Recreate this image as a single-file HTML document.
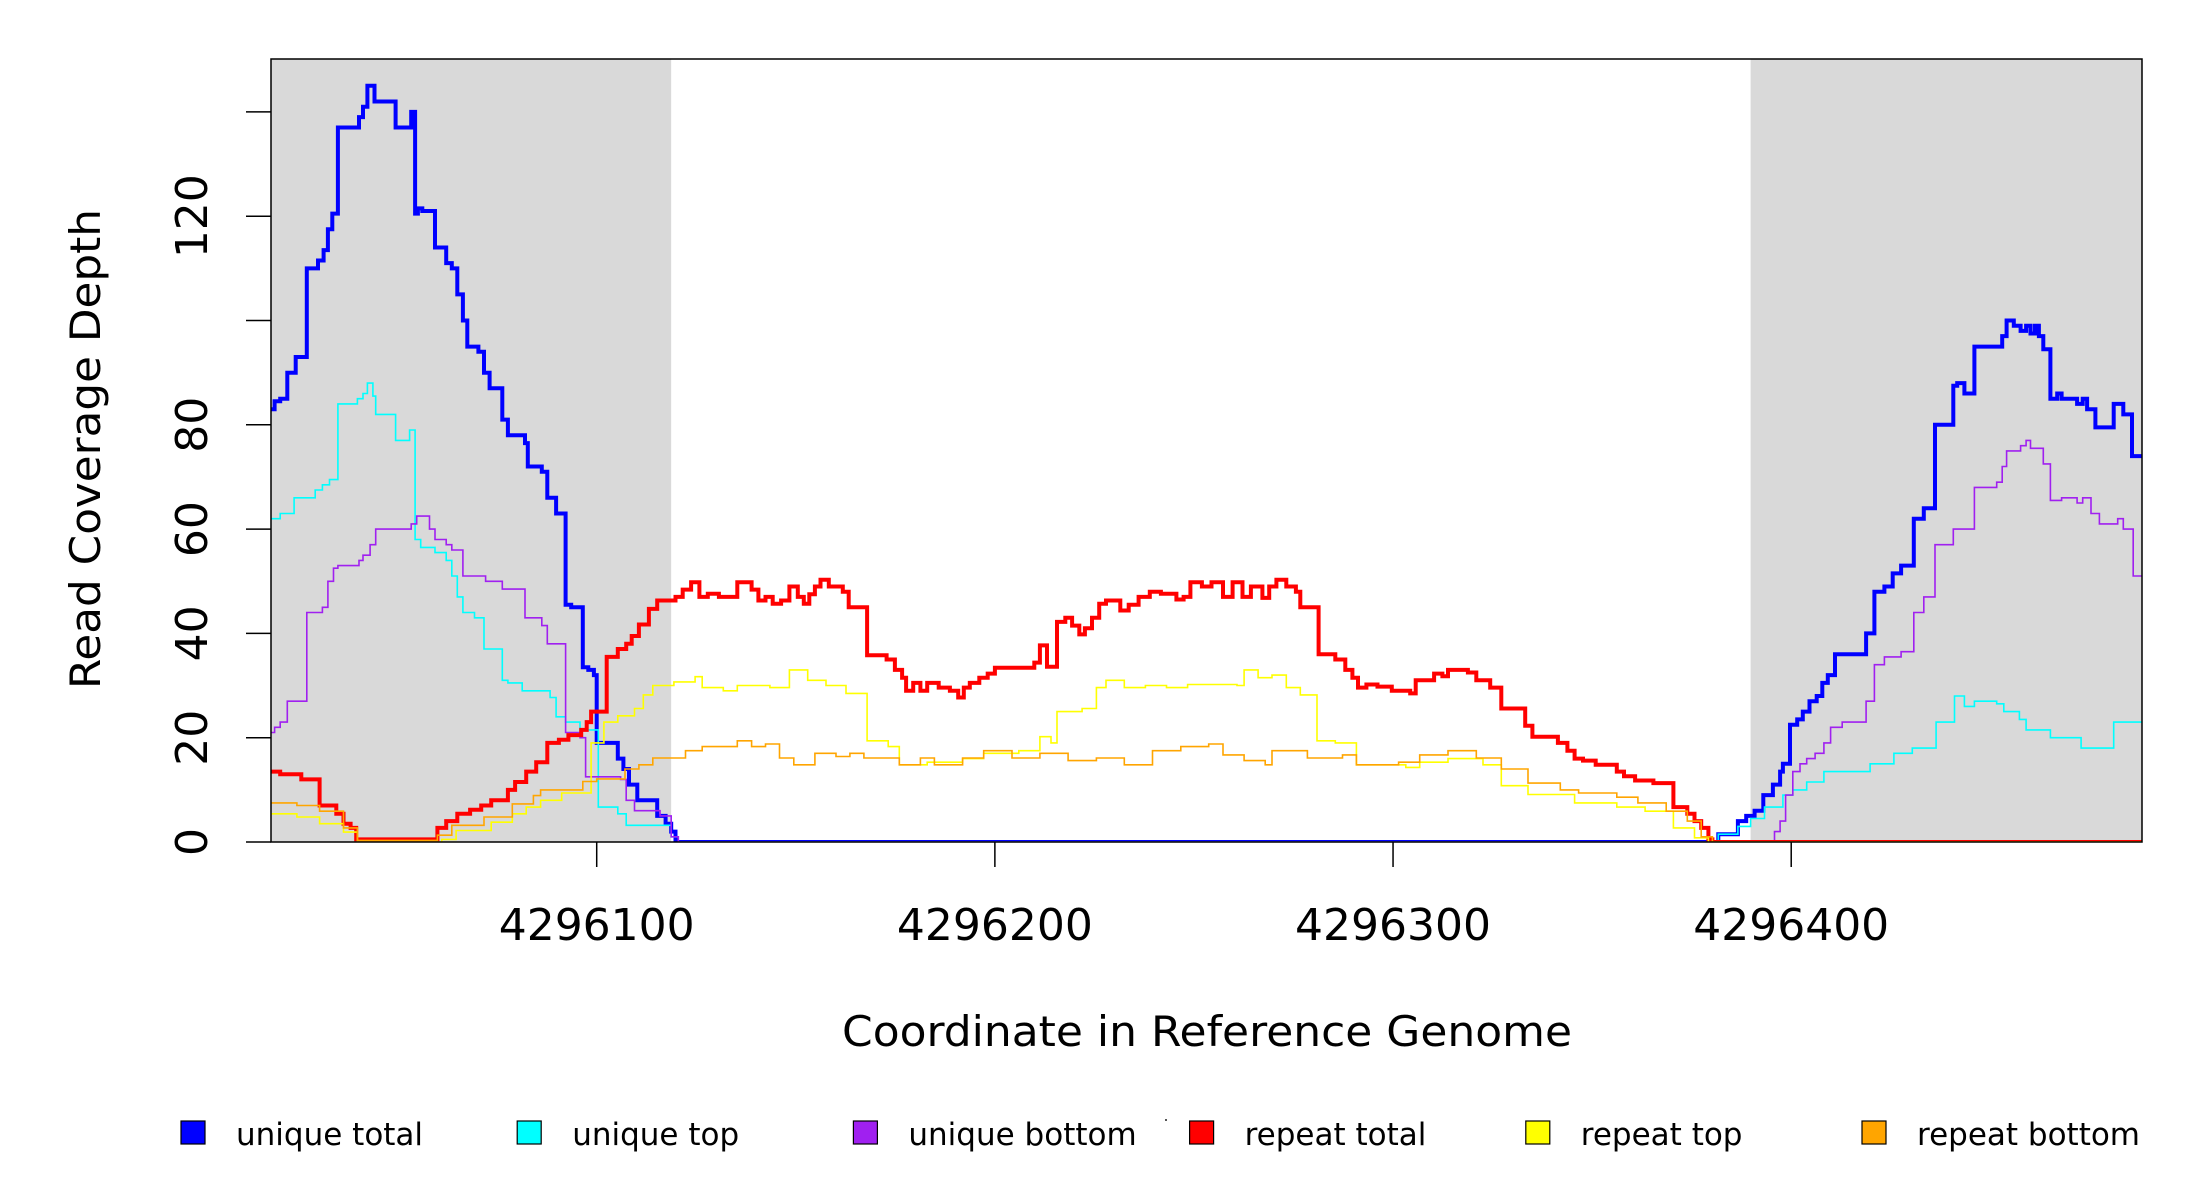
<!DOCTYPE html>
<html><head><meta charset="utf-8"><style>
html,body{margin:0;padding:0;background:#fff;}
svg{display:block;font-family:"DejaVu Sans","Liberation Sans",sans-serif;}
</style></head><body>
<svg id="chart" width="2200" height="1200" viewBox="0 0 2200 1200" xmlns="http://www.w3.org/2000/svg">
<defs><clipPath id="pc"><rect x="271" y="59" width="1871" height="783"/></clipPath></defs>
<g id="shade"></g>
<g id="series" clip-path="url(#pc)"></g>
<rect x="271" y="59" width="1871" height="783" fill="none" stroke="#000" stroke-width="1.5"/>
<g id="yaxis"></g>
<g id="xaxis"></g>
<text x="1207" y="1046" font-size="42" text-anchor="middle" textLength="730" lengthAdjust="spacingAndGlyphs">Coordinate in Reference Genome</text>
<text transform="translate(100,449) rotate(-90)" font-size="42" text-anchor="middle" textLength="480" lengthAdjust="spacingAndGlyphs">Read Coverage Depth</text>
<rect x="1165" y="1119" width="2" height="2" fill="#555"/>
<g id="legend"></g>
</svg>
<script>
// positions: offset in bp from 4296000; values: depth (step starts)
const yTicks=[0,20,40,60,80,100,120,140];
const yTickLabels=["0","20","40","60","80","","120",""];
const xTicks=[100,200,300,400];
const xTickLabels=["4296100","4296200","4296300","4296400"];
const shadedStart=[18.2,389.8];
const shadedEnd=[118.7,488.1];
const seriesNames=["unique total","unique top","unique bottom","repeat total","repeat top","repeat bottom"];
const seriesColors=["#0000ff","#00ffff","#a020f0","#ff0000","#ffff00","#ffa500"];
const seriesWidths=[4,1.6,1.6,4,1.6,1.6];

const uniqueTotalPos=[18,19.1,20.5,22.3,24.4,27.2,30,31.4,32.5,33.6,35,40.3,41.3,42.4,44.2,49.5,53.4,54.4,55.1,56.2,59.4,62.2,63.6,65,66.4,67.5,70.3,71.7,73.1,76.3,77.7,82,82.7,86.2,87.6,89.8,92.2,93.6,96.5,97.9,99.3,100,105.3,106.7,108.1,110.2,115.2,117.3,118.7,119.8,381.7,386.6,388.7,390.8,393,395.4,397.2,397.9,399.7,401.5,402.9,404.6,406.4,407.8,409.2,411,418.8,420.9,423.4,425.5,427.6,430.8,433.3,436.1,440.7,441.7,443.5,446,453,454.1,455.9,457.6,459,460.1,461.2,462.2,463.3,465.1,466.8,467.9,471.8,473.2,474.3,476.4,481,483.4,485.6];
const uniqueTotalVal=[83,84.5,85,90,93,110,111.5,113.5,117.5,120.5,137,139,141,145,142,137,140,120.5,121.5,121,114,111,110,105,100,95,94,90,87,81,78,76.5,72,71,66,63,45.5,45,33.5,33,32,19,16,14,11,8,5,3.5,2,0,1.5,4,5,6,9,11,13.5,15,22.5,23.5,25,27,28,30.5,32,36,40,48,49,51.5,53,62,64,80,87.5,88,86,95,97,100,99,98,99,97.5,99,97,94.5,85,86,85,84,85,83,79.5,84,82,74];

const uniqueTopPos=[18,20.5,24,29.3,31.1,32.9,35,39.9,41.3,42.4,43.8,44.5,49.5,53,54.4,55.8,59.4,62.2,63.6,65,66.4,69.3,71.7,76.3,77.7,81.3,88.3,89.8,92.2,95.8,100.4,105.3,107.4,118.7,120.5,381.7,386.6,389.8,393.3,397.9,400.4,403.9,408.2,419.8,425.8,430.4,436.4,441,443.5,446,451.6,453.4,457.3,459,465.1,472.8,481];
const uniqueTopVal=[62,63,66,67.5,68.5,69.5,84,85,86,88,85.5,82,77,79,58,56.5,55.5,54,51,47,44,43,37,31,30.5,29,27.7,24,23,21.5,6.7,5.4,3.2,1,0,1.5,3,4.5,6.7,9,10,11.5,13.5,15,17,18,23,28,26,27,26.5,25,23.5,21.5,20,18,23];

const uniqueBottomPos=[18,19.1,20.5,22.3,27.2,31.1,32.5,33.9,35,40.3,41.3,43.1,44.5,53.4,54.8,58,59.4,62.2,63.6,66.4,72.1,76.3,82,86.2,87.6,92.2,95.8,97.2,106,107.4,109.5,115.9,118.7,120.5,395.8,397.2,398.6,400.4,402.2,403.9,406,408.2,409.9,412.8,418.8,420.9,423.4,427.6,430.8,433.3,436.1,440.7,446,451.6,453,454.1,457.6,459,460.1,463.3,465.1,467.9,471.8,473.2,475.3,477.4,482,483.4,485.9];
const uniqueBottomVal=[21,22,23,27,44,45,50,52.5,53,54,55,57,60,61,62.5,60,58,57,56,51,50,48.5,43,41.5,38,21,20,12.5,12,8,6,5,1,0,2,4,9,13.5,15,16,17,19,22,23,27,34,35.5,36.5,44,47,57,60,68,69,72,75,76,77,75.5,72.5,65.5,66,65,66,63,61,62,60,51];

const repeatTotalPos=[18,20.5,25.8,30.4,34.6,36.4,38.2,39.6,60,62.2,65,68.2,71,73.5,77.7,79.5,82.3,84.8,87.6,90.5,92.9,96.1,97.5,98.6,102.5,105.3,107.4,108.8,110.6,113.1,115.2,119.8,121.6,123.7,125.8,127.9,130.7,135.3,138.9,140.6,142.4,144.2,146.3,148.4,150.5,152,153.4,154.8,156.2,158.3,161.8,163.3,167.9,172.8,174.9,176.7,177.7,179.5,181.3,183,185.9,188.7,190.8,192.2,193.7,196.1,198.2,200,209.9,211.3,213.1,215.6,217.7,219.4,221.2,222.6,224.4,226.2,227.9,231.5,233.6,236.1,238.9,241.7,245.6,247.4,249.1,252,254.4,257.3,259.7,262.2,264.3,267.2,268.9,270.7,273.2,275.6,276.7,281.3,285.5,288,289.8,291.2,293.3,296.1,299.7,304.3,305.7,310.3,312.4,313.8,318.8,320.9,324.4,327.2,333.2,335,341.4,343.8,345.6,347.7,350.9,356.2,358,360.8,365.4,370.4,373.9,375.7,377.4,379.2,380.2];
const repeatTotalVal=[13.5,13,12,7,5.4,3.5,2.7,0.5,2.7,4,5.4,6.2,7,8,10,11.5,13.5,15.3,19,19.6,20.5,21.5,23,25,35.5,37,38,39.5,41.7,44.7,46.3,47,48.4,49.8,47,47.6,47,49.8,48.4,46.3,47,45.7,46.3,49,47,45.7,47.5,49,50.3,49,48,45,35.8,35,33,31.5,29,30.5,29,30.5,29.6,29,27.7,29.6,30.5,31.5,32.3,33.4,34.4,37.7,33.6,42.2,43,41.5,39.8,41,43,45.7,46.3,44.4,45.5,47,48,47.6,46.5,47,49.8,49,49.8,47,49.8,47,49,46.8,49,50.3,49,48,45,36,35,33,31.5,29.6,30.2,29.8,29,28.5,31,32.3,31.8,33,32.5,31,29.6,25.6,22.3,20.2,19,17.5,16,15.6,14.8,13.5,12.6,11.8,11.3,6.7,5.4,4,2.7,0.5,0];

const repeatTopPos=[18,24.7,30.4,36.4,39.9,61.1,64.7,73.5,78.8,82.3,85.9,91.2,98.6,101.8,105.3,109.5,111.7,114.1,119.4,124.7,126.5,131.8,135.3,143.5,148.4,153,157.6,162.6,167.9,173.2,176,183,191.9,197.2,206,211.3,214.1,215.6,221.9,225.5,227.9,232.5,237.8,243.1,248.4,260.8,262.6,266.1,269.6,273.2,276.7,280.9,285.5,290.8,303.2,306.7,313.8,322.6,327.2,333.9,345.6,356.2,363.3,370.4,375.7,379.2];
const repeatTopVal=[5.4,4.8,3.5,1.9,0,0.5,2.2,3.8,5.4,6.7,8,9.4,19,23,24.2,25.6,28.2,30,30.7,31.7,29.6,29,30,29.6,33,31,30,28.5,19.4,18.3,14.8,15.3,16,17,17.5,20.2,19,25,25.6,29.6,31,29.6,30,29.6,30.2,30,33,31.5,32,29.6,28.2,19.4,19,14.8,14.3,15.3,16,14.8,10.8,9.1,7.5,6.7,5.9,2.7,0.8,0];

const repeatBottomPos=[18,24.7,30.4,36.4,39.9,60,63.6,71.7,78.8,84.1,85.9,96.5,100,107.1,110.6,114.1,122.3,126.5,135.3,138.9,142.4,145.9,149.5,154.8,160.1,163.6,167.1,176,181.3,184.8,191.9,197.2,204.3,211.3,218.4,225.5,232.5,239.6,246.7,253.7,257.3,262.6,267.9,269.6,278.5,287.3,290.8,301.4,306.7,313.8,320.9,327.2,333.9,342,346.6,356.2,361.5,368.6,373.9,377.4,380.2];
const repeatBottomVal=[7.5,7,5.9,2.7,0.3,1.3,3.2,4.8,7.3,8.9,10,11.6,12.1,14,14.8,16.1,17.5,18.3,19.4,18.3,18.8,16.1,14.8,17,16.4,17,16.1,14.8,16.1,14.8,16.1,17.5,16.1,17,15.6,16.1,14.8,17.5,18.3,18.8,16.7,15.6,14.8,17.5,16.1,16.7,14.8,15.3,16.7,17.5,16.1,14,11.3,10,9.4,8.6,7.5,5.9,4,1,0];

const X_MIN=18.2, X_MAX=488.1, PL=271, PR=2142, PT=59, PB=842, Y_PER=5.215;
function xOf(o){return PL+(o-X_MIN)/(X_MAX-X_MIN)*(PR-PL);}
function yOf(v){return PB-v*Y_PER;}
const NS="http://www.w3.org/2000/svg";
function mk(tag,attrs,parent){const e=document.createElementNS(NS,tag);for(const k in attrs)e.setAttribute(k,attrs[k]);parent.appendChild(e);return e;}

const shade=document.getElementById('shade');
for(let i=0;i<shadedStart.length;i++){
  const r=mk('rect',{x:xOf(shadedStart[i]),y:PT,width:xOf(shadedEnd[i])-xOf(shadedStart[i]),height:PB-PT,fill:'#d9d9d9'},shade);
  
  
}

const allPos=[uniqueTotalPos,uniqueTopPos,uniqueBottomPos,repeatTotalPos,repeatTopPos,repeatBottomPos];
const allVal=[uniqueTotalVal,uniqueTopVal,uniqueBottomVal,repeatTotalVal,repeatTopVal,repeatBottomVal];
const seriesG=document.getElementById('series');
const keys=['unique-total','unique-top','unique-bottom','repeat-total','repeat-top','repeat-bottom'];
for(let s=0;s<6;s++){
  const P=allPos[s],V=allVal[s];
  let d='M'+xOf(P[0]).toFixed(1)+','+yOf(V[0]).toFixed(1);
  for(let i=0;i<P.length;i++){
    const xe=(i+1<P.length)?P[i+1]:X_MAX+1;
    d+=' H'+xOf(xe).toFixed(1);
    if(i+1<P.length)d+=' V'+yOf(V[i+1]).toFixed(1);
  }
  const p=mk('path',{d:d,fill:'none',stroke:seriesColors[s],'stroke-width':seriesWidths[s],'stroke-linejoin':'miter'},seriesG);
  
  
}

const ya=document.getElementById('yaxis');
for(let i=0;i<yTicks.length;i++){
  const y=yOf(yTicks[i]);
  const t=mk('line',{x1:246,x2:PL,y1:y,y2:y,stroke:'#000','stroke-width':1.5},ya);
  
  
  if(yTickLabels[i]){
    const l=mk('text',{transform:'translate(207,'+y+') rotate(-90)','font-size':44,'text-anchor':'middle'},ya);
    l.textContent=yTickLabels[i];
    
    
  }
}
const xa=document.getElementById('xaxis');
for(let i=0;i<xTicks.length;i++){
  const x=xOf(xTicks[i]);
  const t=mk('line',{x1:x,x2:x,y1:PB,y2:867,stroke:'#000','stroke-width':1.5},xa);
  
  
  const l=mk('text',{x:x,y:940,'font-size':44,'text-anchor':'middle'},xa);
  l.textContent=xTickLabels[i];
  
  
}

const lg=document.getElementById('legend');
for(let i=0;i<6;i++){
  const x0=181+i*336.2;
  const g=mk('g',{},lg);
  
  
  const r=mk('rect',{x:x0,y:1121,width:24,height:23,fill:seriesColors[i],stroke:'#000','stroke-width':1.2},g);
  
  
  const t=mk('text',{x:x0+55,y:1145,'font-size':31},g);
  t.textContent=seriesNames[i];
  
  
}
</script>
</body></html>
